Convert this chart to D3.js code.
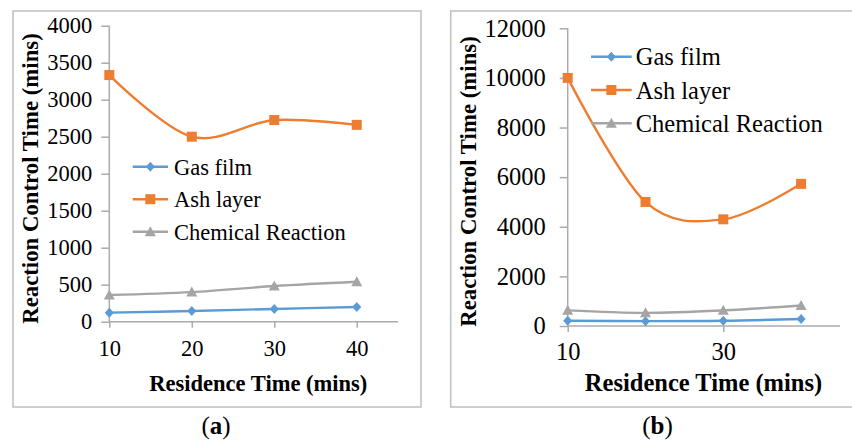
<!DOCTYPE html>
<html><head><meta charset="utf-8">
<script src="https://cdn.jsdelivr.net/npm/d3@7"></script>
<style>
html,body{margin:0;padding:0;background:#fff;}
text{font-family:"Liberation Serif","Times New Roman",serif;fill:#000;}
</style></head>
<body><svg id="c" width="852" height="441"></svg>
<script>
// ---- data ----
const residence = [10, 20, 30, 40];
const seriesNames = ["Gas film", "Ash layer", "Chemical Reaction"];
const seriesColors = ["#5B9BD5", "#ED7D31", "#A5A5A5"];
const seriesMarkers = ["diamond", "square", "triangle"];
// panel (a)
const gasA = [122, 145, 172, 199];
const ashA = [3333, 2500, 2725, 2660];
const chemA = [361, 400, 482, 540];
const yTicksA = [0, 500, 1000, 1500, 2000, 2500, 3000, 3500, 4000];
const xTicksA = [10, 20, 30, 40];
// panel (b)
const gasB = [210, 195, 210, 285];
const ashB = [10000, 5000, 4300, 5730];
const chemB = [630, 530, 630, 825];
const yTicksB = [0, 2000, 4000, 6000, 8000, 10000, 12000];
const xTicksB = [10, 30];
const xTitle = "Residence Time (mins)";
const yTitle = "Reaction Control Time (mins)";

const svg = d3.select("#c");

function marker(g, type, x, y, color) {
  if (type === "square") {
    g.append("rect").attr("x", x - 5).attr("y", y - 5).attr("width", 10).attr("height", 10).attr("fill", color);
  } else if (type === "diamond") {
    g.append("path").attr("d", `M${x},${y-5}L${x+4.5},${y}L${x},${y+5}L${x-4.5},${y}Z`).attr("fill", color);
  } else {
    g.append("path").attr("d", `M${x},${y-5.5}L${x+5.5},${y+4.5}L${x-5.5},${y+4.5}Z`).attr("fill", color);
  }
}

function panel(cfg) {
  const g = svg.append("g");
  // frame
  g.append("rect").attr("x", cfg.frame[0]).attr("y", cfg.frame[1])
    .attr("width", cfg.frame[2]).attr("height", cfg.frame[3])
    .attr("fill", "none").attr("stroke", "#bfbfbf").attr("stroke-width", 1.5);

  const x = d3.scaleLinear().domain([10, 45]).range(cfg.xr);
  const y = d3.scaleLinear().domain([0, cfg.ymax]).range(cfg.yr);

  const axisColor = "#ababab";
  const yAxis = d3.axisLeft(y).tickValues(cfg.yTicks).tickSize(8).tickPadding(cfg.yPad).tickFormat(d3.format("d"));
  const ya = g.append("g").attr("transform", `translate(${cfg.xr[0]},0)`).call(yAxis);
  const xAxis = d3.axisBottom(x).tickValues(cfg.xTicks).tickSize(6).tickPadding(cfg.xPad).tickFormat(d3.format("d"));
  const xa = g.append("g").attr("transform", `translate(0,${cfg.yr[0]})`).call(xAxis);
  [ya, xa].forEach(a => {
    a.select(".domain").attr("stroke", axisColor).attr("stroke-width", 1.5);
    a.selectAll(".tick line").attr("stroke", axisColor).attr("stroke-width", 1.5);
    a.selectAll("text").attr("font-size", cfg.fs).attr("font-family", "Liberation Serif").attr("fill", "#000");
  });
  ya.select(".domain").attr("d", `M0,${cfg.yr[1]}V${cfg.yr[0]}`);
  xa.select(".domain").attr("d", `M${cfg.xr[0]},0H${cfg.xr[1]}`);

  const data = [cfg.gas, cfg.ash, cfg.chem];
  const line = d3.line().x((d, i) => x(residence[i])).y(d => y(d)).curve(d3.curveCardinal.tension(0));
  // draw order: gas, ash, chem
  data.forEach((vals, s) => {
    g.append("path").attr("d", line(vals)).attr("fill", "none")
      .attr("stroke", seriesColors[s]).attr("stroke-width", 2.4);
    vals.forEach((v, i) => marker(g, seriesMarkers[s], x(residence[i]), y(v), seriesColors[s]));
  });

  // legend
  seriesNames.forEach((n, s) => {
    const ly = cfg.leg.y + s * cfg.leg.dy;
    g.append("line").attr("x1", cfg.leg.x1).attr("x2", cfg.leg.x2).attr("y1", ly).attr("y2", ly)
      .attr("stroke", seriesColors[s]).attr("stroke-width", 2.4);
    marker(g, seriesMarkers[s], (cfg.leg.x1 + cfg.leg.x2) / 2, ly, seriesColors[s]);
    g.append("text").attr("x", cfg.leg.tx).attr("y", ly).attr("dy", "0.35em")
      .attr("font-size", cfg.fs).text(n);
  });

  // axis titles
  g.append("text").attr("x", cfg.xt[0]).attr("y", cfg.xt[1]).attr("text-anchor", "middle")
    .attr("font-size", cfg.fs).attr("font-weight", "bold").text(xTitle);
  g.append("text").attr("transform", `translate(${cfg.yt[0]},${cfg.yt[1]}) rotate(-90)`)
    .attr("text-anchor", "middle").attr("dy", "0.35em")
    .attr("font-size", cfg.yfs).attr("font-weight", "bold").text(yTitle);

  // caption
  const cap = g.append("text").attr("x", cfg.cap[0]).attr("y", cfg.cap[1]).attr("text-anchor", "middle")
    .attr("font-size", 25);
  cap.append("tspan").text("(");
  cap.append("tspan").attr("font-weight", "bold").text(cfg.letter);
  cap.append("tspan").text(")");
}

panel({
  frame: [13, 11, 408, 396],
  xr: [109.3, 398], yr: [321.7, 25.7], ymax: 4000,
  yTicks: yTicksA, xTicks: xTicksA, yPad: 9, xPad: 12,
  gas: gasA, ash: ashA, chem: chemA,
  fs: 22.5, yfs: 22.8,
  leg: { x1: 132.7, x2: 168, tx: 174, y: 166.7, dy: 32.5 },
  xt: [258.3, 391], yt: [30, 178.5],
  cap: [216, 434], letter: "a"
});

panel({
  frame: [450.7, 11, 410, 396],
  xr: [567.7, 840], yr: [326, 28.3], ymax: 12000,
  yTicks: yTicksB, xTicks: xTicksB, yPad: 14, xPad: 11,
  gas: gasB, ash: ashB, chem: chemB,
  fs: 24.5, yfs: 22.8,
  leg: { x1: 591, x2: 631.7, tx: 635.7, y: 56.7, dy: 33.3 },
  xt: [703.5, 391], yt: [468.5, 181.5],
  cap: [657.5, 434], letter: "b"
});
</script>
</body></html>
